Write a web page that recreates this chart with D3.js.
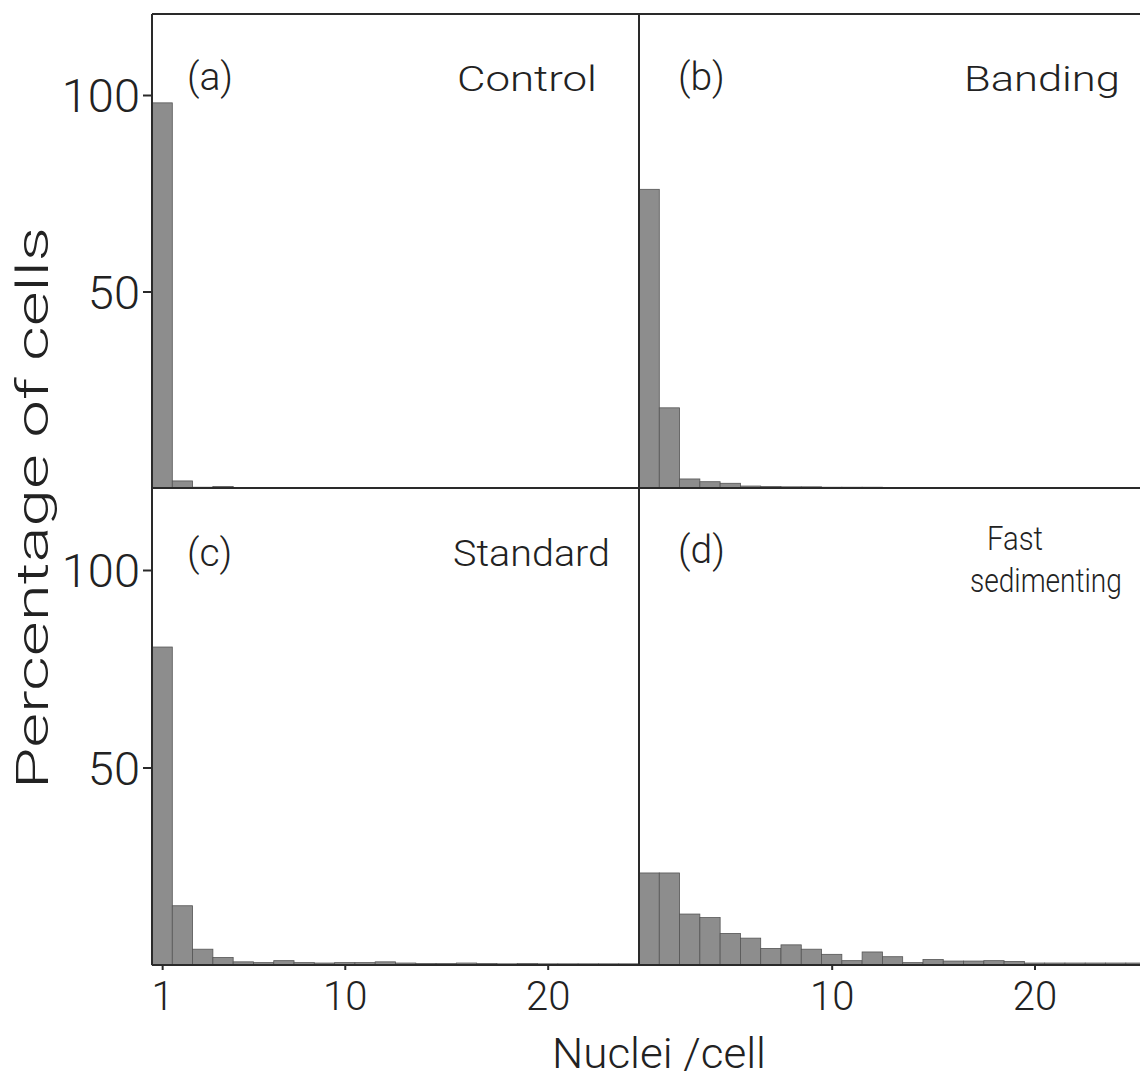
<!DOCTYPE html>
<html>
<head>
<meta charset="utf-8">
<script src="https://cdn.jsdelivr.net/npm/d3@7"></script>
<style>
  html, body { margin: 0; padding: 0; background: #fff; }
  svg text { font-family: Roboto, "Open Sans", "DejaVu Sans", sans-serif; font-weight: 300; fill: #222; }
</style>
</head>
<body>
<svg id="chart" width="1140" height="1078"></svg>
<script>
// ---- data (percentage of cells per number of nuclei/cell) ----
const nuclei = d3.range(1, 26); // 1..25
const control  = [98, 1.8, 0.2, 0.4, 0.1, 0.1, 0.1, 0.1, 0.1, 0.1];
const banding  = [76, 20.4, 2.3, 1.6, 1.2, 0.5, 0.4, 0.3, 0.3, 0.2, 0.2, 0.2, 0.1, 0.1, 0.1];
const standard = [80.5, 15, 4, 1.9, 0.8, 0.6, 1.1, 0.6, 0.5, 0.6, 0.6, 0.8, 0.5, 0.4, 0.4, 0.5, 0.4, 0.3, 0.4, 0.3, 0.3, 0.3, 0.3, 0.3];
const fastSed  = [23.3, 23.3, 12.9, 12.0, 8.0, 6.8, 4.2, 5.1, 4.0, 2.7, 1.1, 3.3, 2.1, 0.6, 1.4, 1.0, 1.0, 1.1, 0.9, 0.5, 0.5, 0.5, 0.5, 0.5, 0.5];
const yTicks = [50, 100];
const yTickLabels = ["50", "100"];
const xTicksLeft = [1, 10, 20];
const xTicksRight = [10, 20];
const panelIds = ["(a)", "(b)", "(c)", "(d)"];
const panelNames = [["Control"], ["Banding"], ["Standard"], ["Fast", "sedimenting"]];
const xTitle = "Nuclei /cell";
const yTitle = "Percentage of cells";

// ---- layout ----
const svg = d3.select("#chart");
const L = 152, M = 639, R = 1140;
const T = 14, H = 488, B = 965;

const xLeft  = d3.scaleLinear().domain([0.5, 24.5]).range([L, M]);
const xRight = d3.scaleLinear().domain([0.5, 25.2]).range([M, R]);
const yTop    = d3.scaleLinear().domain([0, 100]).range([H, 95]);
const yBottom = d3.scaleLinear().domain([0, 100]).range([B, 570]);

const panels = [
  {data: control,  x: xLeft,  y: yTop},
  {data: banding,  x: xRight, y: yTop},
  {data: standard, x: xLeft,  y: yBottom},
  {data: fastSed,  x: xRight, y: yBottom}
];

// bars
panels.forEach(p => {
  const g = svg.append("g");
  g.selectAll("rect")
    .data(p.data.map((v, i) => ({n: nuclei[i], v})))
    .join("rect")
    .attr("x", d => p.x(d.n - 0.5))
    .attr("width", d => p.x(d.n + 0.5) - p.x(d.n - 0.5))
    .attr("y", d => p.y(d.v))
    .attr("height", d => p.y(0) - p.y(d.v))
    .attr("fill", "#8d8d8d")
    .attr("stroke", "#555")
    .attr("stroke-width", 0.8);
});

// frame lines
const frame = svg.append("g").attr("stroke", "#2a2a2a").attr("stroke-width", 2).attr("fill", "none");
[[L, T, R, T], [L, H, R, H], [L, B, R, B], [L, T, L, B], [M, T, M, B]].forEach(s => {
  frame.append("line").attr("x1", s[0]).attr("y1", s[1]).attr("x2", s[2]).attr("y2", s[3]);
});

// y axes (left only)
[yTop, yBottom].forEach(y => {
  const ax = svg.append("g").attr("transform", `translate(${L},0)`)
    .call(d3.axisLeft(y).tickValues(yTicks).tickSize(9).tickFormat((d, i) => yTickLabels[i]).tickPadding(3));
  ax.select(".domain").remove();
  ax.selectAll("line").attr("stroke", "#2a2a2a").attr("stroke-width", 2);
  ax.selectAll("text").attr("font-size", 47).attr("dy", "0.36em")
    .style("font-family", "Roboto, 'Open Sans', sans-serif").style("font-weight", 300).attr("fill", "#222");
});

// x axes (bottom panels)
[[xLeft, xTicksLeft], [xRight, xTicksRight]].forEach(([x, tv]) => {
  const ax = svg.append("g").attr("transform", `translate(0,${B})`)
    .call(d3.axisBottom(x).tickValues(tv).tickSize(5).tickPadding(12).tickFormat(d3.format("d")));
  ax.select(".domain").remove();
  ax.selectAll("line").attr("stroke", "#2a2a2a").attr("stroke-width", 2);
  ax.selectAll("text").attr("font-size", 40)
    .style("font-family", "Roboto, 'Open Sans', sans-serif").style("font-weight", 300).attr("fill", "#222");
});

// helper: text placed at (x,y) [start anchor], scaled horizontally to a target width
function fitText(t, x, y, w, fs, rotate) {
  const el = svg.append("text").attr("font-size", fs).text(t);
  const natural = el.node().getComputedTextLength();
  const sx = w / natural;
  if (rotate) {
    el.attr("text-anchor", "middle")
      .attr("transform", `translate(${x},${y}) rotate(-90) scale(${sx},1)`);
  } else {
    el.attr("transform", `translate(${x},${y}) scale(${sx},1)`);
  }
  return el;
}

// panel labels
const idPos = [[187, 90], [678, 90], [187, 566], [678, 563]];
panelIds.forEach((t, i) => {
  svg.append("text").attr("x", idPos[i][0]).attr("y", idPos[i][1]).attr("font-size", 39).text(t);
});
// [x, y, width, font size]
const namePos = [
  [[457, 91, 140, 36]],
  [[964, 91, 156, 36]],
  [[453, 566, 157, 36]],
  [[987, 550, 56, 33], [970, 592, 152, 33]]
];
panelNames.forEach((lines, i) => {
  lines.forEach((t, j) => {
    const [x, y, w, fs] = namePos[i][j];
    fitText(t, x, y, w, fs, false);
  });
});

// axis titles
fitText(xTitle, 552, 1068, 214, 43, false);
fitText(yTitle, 48, 508, 562, 45, true);
</script>
</body>
</html>
